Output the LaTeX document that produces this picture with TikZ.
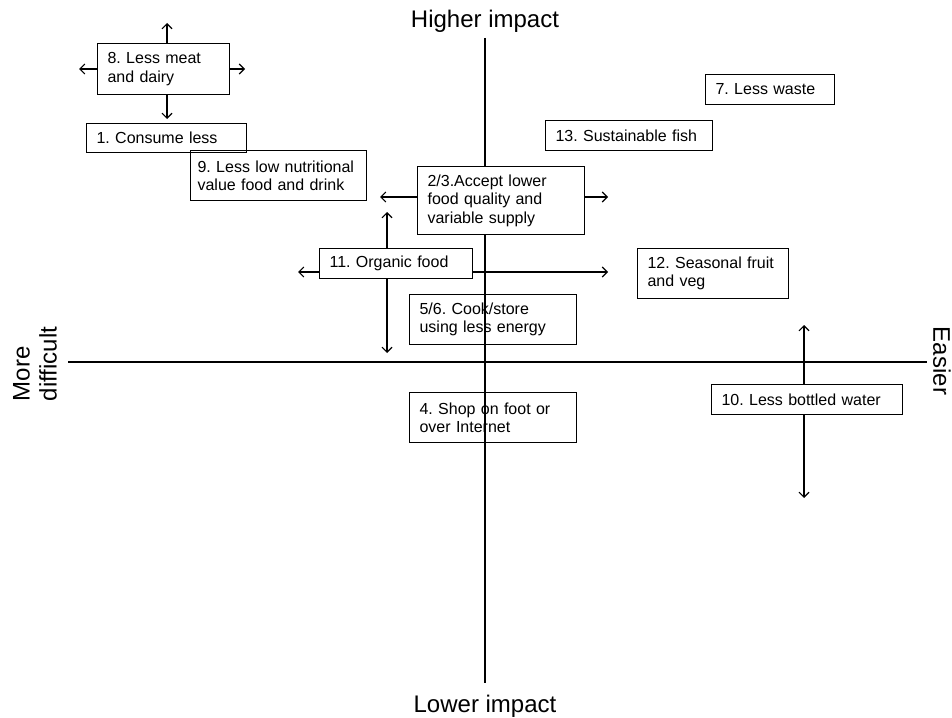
\documentclass[tikz,border=0pt]{standalone}
\usepackage{fontspec}
\setmainfont{Liberation Sans}
\usetikzlibrary{arrows.meta}
\frenchspacing
\begin{document}
\begin{tikzpicture}[x=1pt,y=-1pt,
        item/.style={draw,line width=1.1pt,anchor=north west,align=left,inner xsep=10pt,inner ysep=0pt,font=\fontsize{16}{18.5}\selectfont},
        axislabel/.style={font=\fontsize{24}{27}\selectfont},
        move/.style={-{Straight Barb[length=5pt,width=10pt]},line width=1.1pt}]
                    \useasboundingbox (0,0) rectangle (952,717);

                    % axes
                    \path
                    (485,38) coordinate (top)
                    (485,683) coordinate (bottom)
                    (68,362) coordinate (left)
                    (927,362) coordinate (right)
                    (485,28) node[axislabel,anchor=base](higher) {Higher impact}
                    (485,712) node[axislabel,anchor=base](lower) {Lower impact}
                    (35,364) node[axislabel,rotate=90,align=left](harder) {More\\difficult}
                    (942,361) node[axislabel,rotate=-90](easier) {Easier};
                    \draw[line width=1.2pt] (top) -- (bottom);
                    \draw[line width=1.2pt] (left) -- (right);

                    % actions
                    \path
                    (97,43) node[item,text width=112pt,minimum height=51pt](meat) {8. Less meat\\and dairy}
                    (86,123) node[item,text width=140pt,minimum height=29pt](less) {1. Consume less}
                    (190,150) node[item,inner xsep=7pt,text width=162pt,minimum height=50pt](junk) {9. Less low nutritional\\value food and drink}
                    (417,166) node[item,fill=white,text width=147pt,minimum height=68pt](quality) {2/3.Accept lower\\food quality and\\variable supply}
                    (319,248) node[item,text width=133pt,minimum height=30pt](organic) {11. Organic food}
                    (409,294) node[item,text width=147pt,minimum height=50pt](energy) {5/6. Cook/store\\using less energy}
                    (409,392) node[item,text width=147pt,minimum height=50pt](shop) {4. Shop on foot or\\over Internet}
                    (705,74) node[item,text width=109pt,minimum height=30pt](waste) {7. Less waste}
                    (545,120) node[item,text width=147pt,minimum height=30pt](fish) {13. Sustainable fish}
                    (637,248) node[item,text width=131pt,minimum height=50pt](season) {12. Seasonal fruit\\and veg}
                    (711,384) node[item,text width=171pt,minimum height=30pt](water) {10. Less bottled water};

                    % free ends of the arrows
                    \path
                    (167,23) coordinate (meatup)
                    (79,69) coordinate (meatleft)
                    (245,69) coordinate (meatright)
                    (167,119) coordinate (meatdown)
                    (380,197) coordinate (qualityleft)
                    (608,197) coordinate (qualityright)
                    (387,212) coordinate (organicup)
                    (387,353) coordinate (organicdown)
                    (298,272) coordinate (organicleft)
                    (608,272) coordinate (organicright)
                    (804,325) coordinate (waterup)
                    (804,498) coordinate (waterdown);

                    \draw[move] (meatup |- meat.north) -- (meatup);
                    \draw[move] (meat.west |- meatleft) -- (meatleft);
                    \draw[move] (meat.east |- meatright) -- (meatright);
                    \draw[move] (meatdown |- meat.south) -- (meatdown);

                    \draw[move] (quality.west |- qualityleft) -- (qualityleft);
                    \draw[move] (quality.east |- qualityright) -- (qualityright);

                    \draw[move] (organicup |- organic.north) -- (organicup);
                    \draw[move] (organicdown |- organic.south) -- (organicdown);
                    \draw[move] (organic.west |- organicleft) -- (organicleft);
                    \draw[move] (organic.east |- organicright) -- (organicright);

                    \draw[move] (waterup |- water.north) -- (waterup);
                    \draw[move] (waterdown |- water.south) -- (waterdown);
                \end{tikzpicture}
\end{document}
